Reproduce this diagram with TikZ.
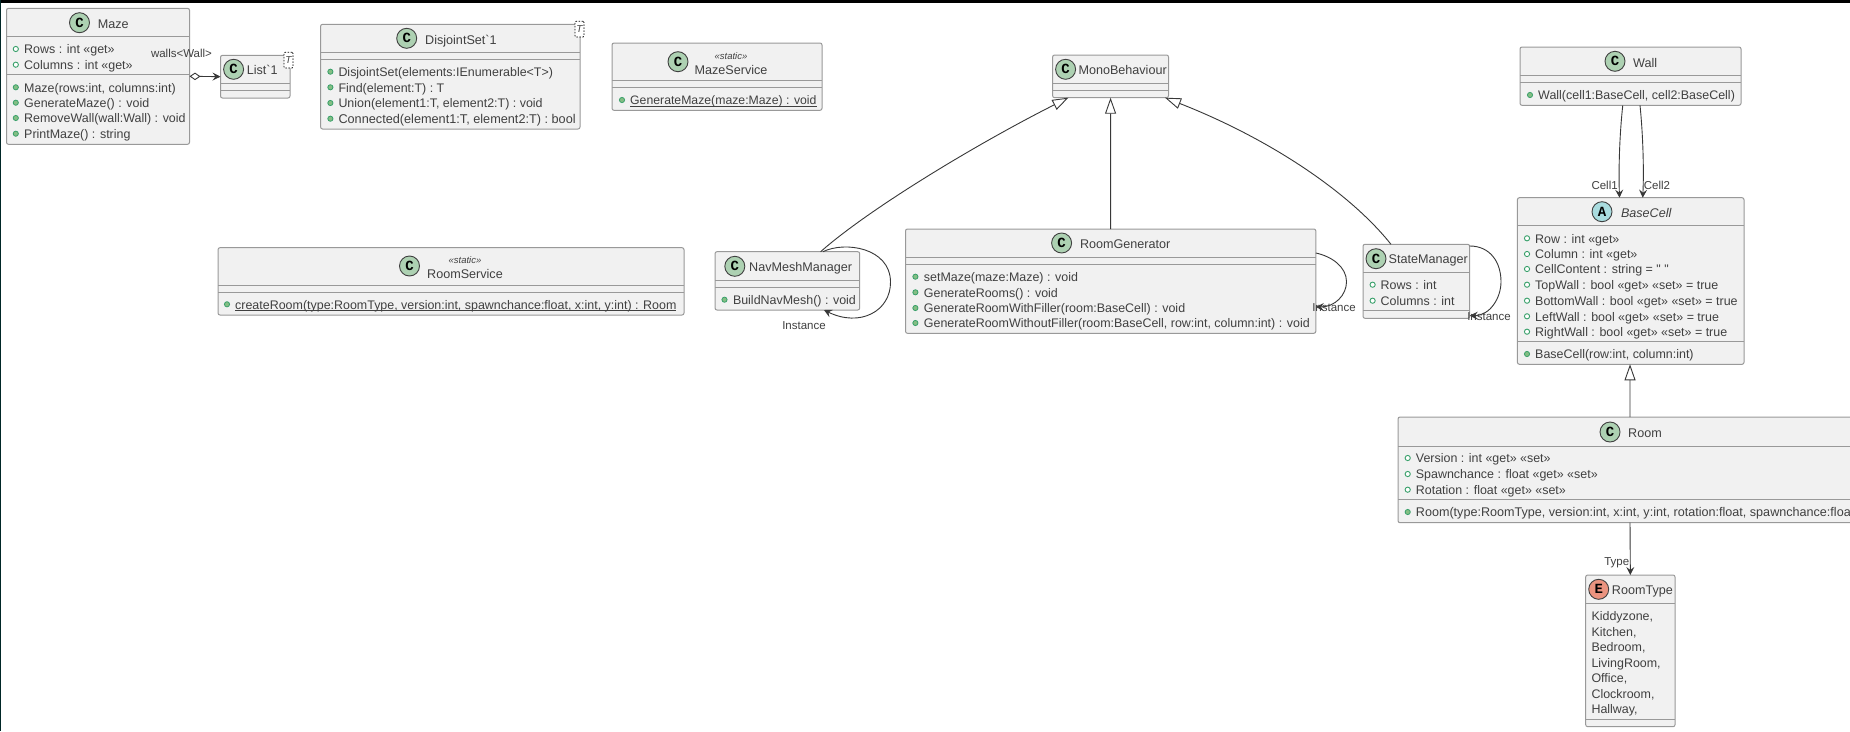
\documentclass[tikz,border=0pt]{standalone}
\usepackage{fontspec}
\usetikzlibrary{arrows.meta,calc,fit}
\newfontfamily\umlf{Liberation Sans}
\newfontfamily\umlm{Liberation Mono}
\definecolor{boxfill}{HTML}{F1F1F1}
\definecolor{boxline}{HTML}{999999}
\definecolor{inkc}{HTML}{404040}
\definecolor{connc}{HTML}{383838}
\definecolor{iconc}{HTML}{ADD1B2}
\definecolor{icona}{HTML}{A9DCDF}
\definecolor{icone}{HTML}{EB937F}
\definecolor{bulc}{HTML}{38A06A}
\definecolor{bulf}{HTML}{84BE84}
\newcount\umlc
\newsavebox{\umlundbox}
\newcommand{\umlund}[1]{\sbox{\umlundbox}{\fontsize{12.25}{14}\selectfont #1}\rlap{\usebox{\umlundbox}}\raisebox{-1.6pt}{\rule{\wd\umlundbox}{0.7pt}}}
\tikzset{
  x=1pt,y=-1pt,
  umlbox/.style={draw=boxline,fill=boxfill,rounded corners=2pt,line width=1pt,inner sep=0pt,outer sep=0pt},
  sepline/.style={draw=boxline,line width=1pt},
  txt/.style={font=\umlf\fontsize{12.45}{14}\selectfont,text=inkc,inner sep=0pt,text height=12pt,text depth=2.5pt},
  ttl/.style={txt,font=\umlf\fontsize{12.6}{14}\selectfont},
  stereo/.style={txt,font=\umlf\itshape\fontsize{9.5}{11}\selectfont},
  lbl/.style={txt,font=\umlf\fontsize{11.5}{13}\selectfont},
  iconstyle/.style={circle,draw=inkc,line width=0.9pt,minimum size=20pt,inner sep=0pt,font=\umlm\bfseries\fontsize{14}{14}\selectfont,text=black},
  conn/.style={draw=connc,line width=0.9pt},
  openhead/.style={-{Stealth[length=8pt,width=8pt,inset=3pt,fill=connc]}},
  inherit/.style={-{Triangle[length=16pt,width=11pt,fill=white]}},
  tmpl/.style={draw=black,dashed,dash pattern=on 1.5pt off 1.5pt,fill=white,line width=0.7pt,rounded corners=1pt,inner sep=0pt,outer sep=0pt,font=\umlf\itshape\fontsize{10}{10}\selectfont,text=inkc},
}
\newcommand{\umlbox}[5]{\node[umlbox,fit={(#2,#3) (#4,#5)}] (#1) {};}
\newcommand{\umlsep}[3]{\draw[sepline] (#1,#3) -- (#2,#3);}
\newcommand{\umlicon}[5]{\node[iconstyle,fill=#4] (#5) at (#1,#2) {#3};}
\newcommand{\umlttl}[3]{\global\advance\umlc by 1 \node[ttl,anchor=west] (t\the\umlc) at (#1,#2) {#3};}
\newcommand{\umlctr}[3]{\global\advance\umlc by 1 \node[ttl,anchor=center] (t\the\umlc) at (#1,#2) {#3};}
\newcommand{\umlster}[2]{\global\advance\umlc by 1 \node[stereo,anchor=center] (t\the\umlc) at (#1,#2) {«static»};}
\newcommand{\umlfield}[4]{\global\advance\umlc by 1 \draw[bulc,line width=0.9pt,fill=white] (#1,#3) circle (2.6pt); \node[txt,anchor=west] (t\the\umlc) at (#2,#3) {#4};}
\newcommand{\umlmeth}[4]{\global\advance\umlc by 1 \draw[bulc,line width=0.8pt,fill=bulf] (#1,#3) circle (2.6pt); \node[txt,anchor=west] (t\the\umlc) at (#2,#3) {#4};}
\newcommand{\umllit}[3]{\global\advance\umlc by 1 \node[txt,anchor=west] (t\the\umlc) at (#1,#2) {#3};}
\newcommand{\umllbl}[3]{\global\advance\umlc by 1 \node[lbl,anchor=center] (t\the\umlc) at (#1,#2) {#3};}
\begin{document}
\begin{tikzpicture}
\useasboundingbox (0,0) rectangle (1850,731);
\clip (0,0) rectangle (1850,731);
\fill[white] (0,0) rectangle (1850,731);
\fill[black] (0,0) rectangle (1850,2.5);
\fill[black!70!teal] (0,0) rectangle (1.3,731);

% Maze
\umlbox{maze}{6.5}{8.3}{189.5}{144.3}
\umlsep{6.5}{189.5}{36.7}\umlsep{6.5}{189.5}{74.7}
\umlicon{79.5}{22.7}{C}{iconc}{imaze}
\umlttl{97.6}{23.3}{Maze}
\umlfield{15.8}{24}{49}{Rows : int «get»}
\umlfield{15.8}{24}{64.7}{Columns : int «get»}
\umlmeth{15.8}{24}{87.3}{Maze(rows:int, columns:int)}
\umlmeth{15.8}{24}{102.7}{GenerateMaze() : void}
\umlmeth{15.8}{24}{118}{RemoveWall(wall:Wall) : void}
\umlmeth{15.8}{24}{133.7}{PrintMaze() : string}

% List
\umlbox{list}{220.5}{55.3}{290}{98}
\umlsep{220.5}{290}{83.3}\umlsep{220.5}{290}{90.3}
\umlicon{233.6}{69.3}{C}{iconc}{ilist}
\umlttl{246.6}{70}{List`1}
\node[tmpl,fit={(284,52.3) (293,68)}] (tlist) {};
\node[tmpl,draw=none,fill=none] (tlistt) at (288.5,60.2) {T};

% DisjointSet
\umlbox{dset}{320.6}{24.3}{580}{129}
\umlsep{320.6}{580}{52.3}\umlsep{320.6}{580}{59.3}
\umlicon{406.7}{38.3}{C}{iconc}{idset}
\umlttl{425}{39.3}{DisjointSet`1}
\node[tmpl,fit={(575,21.3) (584,37)}] (tdset) {};
\node[tmpl,draw=none,fill=none] (tdsett) at (579.5,29.2) {T};
\umlmeth{330.4}{338.3}{71.7}{DisjointSet(elements:IEnumerable<T>)}
\umlmeth{330.4}{338.3}{87.3}{Find(element:T) : T}
\umlmeth{330.4}{338.3}{103}{Union(element1:T, element2:T) : void}
\umlmeth{330.4}{338.3}{118.7}{\fontsize{12.7}{14}\selectfont Connected(element1:T, element2:T) : bool}

% MazeService
\umlbox{msvc}{612}{43}{822}{110.3}
\umlsep{612}{822}{80.3}\umlsep{612}{822}{87.7}
\umlicon{678}{61.7}{C}{iconc}{imsvc}
\umlster{731}{55}
\umlctr{731}{69.3}{MazeService}
\umlmeth{622}{630}{100}{\umlund{GenerateMaze(maze:Maze) : void}}

% RoomService
\umlbox{rsvc}{218}{247.7}{684}{315}
\umlsep{218}{684}{285}\umlsep{218}{684}{292.3}
\umlicon{409.5}{266}{C}{iconc}{irsvc}
\umlster{465}{259}
\umlctr{465}{274}{RoomService}
\umlmeth{227}{235}{304.3}{\umlund{\fontsize{12.45}{14}\selectfont createRoom(type:RoomType, version:int, spawnchance:float, x:int, y:int) : Room}}

% MonoBehaviour
\umlbox{mono}{1052.6}{55}{1168.5}{97.7}
\umlsep{1052.6}{1168.5}{83.3}\umlsep{1052.6}{1168.5}{90.3}
\umlicon{1065.6}{69.3}{C}{iconc}{imono}
\umlttl{1078.3}{70}{MonoBehaviour}

% NavMeshManager
\umlbox{nav}{715}{251.7}{859.7}{310}
\umlsep{715}{859.7}{280.3}\umlsep{715}{859.7}{287.3}
\umlicon{734.8}{266.3}{C}{iconc}{inav}
\umlttl{749}{266.7}{NavMeshManager}
\umlmeth{724.5}{732.8}{299.7}{BuildNavMesh() : void}

% RoomGenerator
\umlbox{rgen}{905.5}{229}{1315.8}{333.3}
\umlsep{905.5}{1315.8}{257.3}\umlsep{905.5}{1315.8}{264.3}
\umlicon{1061.6}{243}{C}{iconc}{irgen}
\umlttl{1079.8}{244}{RoomGenerator}
\umlmeth{915.4}{923.7}{276.7}{setMaze(maze:Maze) : void}
\umlmeth{915.4}{923.7}{292.3}{GenerateRooms() : void}
\umlmeth{915.4}{923.7}{308}{GenerateRoomWithFiller(room:BaseCell) : void}
\umlmeth{915.4}{923.7}{323}{GenerateRoomWithoutFiller(room:BaseCell, row:int, column:int) : void}

% StateManager
\umlbox{smgr}{1363}{244.3}{1469.7}{318.3}
\umlsep{1363}{1469.7}{272.3}\umlsep{1363}{1469.7}{310.7}
\umlicon{1376}{258.7}{C}{iconc}{ismgr}
\umlttl{1388.4}{259}{StateManager}
\umlfield{1372.6}{1380.5}{284.7}{Rows : int}
\umlfield{1372.6}{1380.5}{300.7}{Columns : int}

% Wall
\umlbox{wall}{1520}{47}{1741}{105.3}
\umlsep{1520}{1741}{75.3}\umlsep{1520}{1741}{82.3}
\umlicon{1615}{61.3}{C}{iconc}{iwall}
\umlttl{1633}{62.3}{Wall}
\umlmeth{1530}{1538}{95}{Wall(cell1:BaseCell, cell2:BaseCell)}

% BaseCell
\umlbox{cell}{1517.4}{197.7}{1744}{364.3}
\umlsep{1517.4}{1744}{225.7}\umlsep{1517.4}{1744}{341.7}
\umlicon{1602}{211.7}{A}{icona}{icell}
\umlttl{1620.8}{212.7}{\itshape BaseCell}
\umlfield{1527}{1535}{238.3}{Row : int «get»}
\umlfield{1527}{1535}{254}{Column : int «get»}
\umlfield{1527}{1535}{269}{CellContent : string = " "}
\umlfield{1527}{1535}{284.7}{TopWall : bool «get» «set» = true}
\umlfield{1527}{1535}{300.7}{BottomWall : bool «get» «set» = true}
\umlfield{1527}{1535}{316.3}{LeftWall : bool «get» «set» = true}
\umlfield{1527}{1535}{331.7}{RightWall : bool «get» «set» = true}
\umlmeth{1527}{1535}{354}{BaseCell(row:int, column:int)}

% Room
\umlbox{room}{1398}{417}{1862}{522.7}
\umlsep{1398}{1862}{446}\umlsep{1398}{1862}{499.7}
\umlicon{1610}{432}{C}{iconc}{iroom}
\umlttl{1628}{432.7}{Room}
\umlfield{1407.7}{1415.7}{458}{Version : int «get» «set»}
\umlfield{1407.7}{1415.7}{474}{Spawnchance : float «get» «set»}
\umlfield{1407.7}{1415.7}{489.7}{Rotation : float «get» «set»}
\umlmeth{1407.7}{1415.7}{512}{\fontsize{12.6}{14}\selectfont Room(type:RoomType, version:int, x:int, y:int, rotation:float, spawnchance:float)}

% RoomType
\umlbox{rtype}{1585.7}{575}{1675}{726.7}
\umlsep{1585.7}{1675}{603}\umlsep{1585.7}{1675}{719}
\umlicon{1598.7}{589.3}{E}{icone}{irtype}
\umlttl{1611.7}{590}{RoomType}
\umllit{1591.3}{615.7}{Kiddyzone,}
\umllit{1591.3}{631.3}{Kitchen,}
\umllit{1591.3}{646.7}{Bedroom,}
\umllit{1591.3}{662.3}{LivingRoom,}
\umllit{1591.3}{677.7}{Office,}
\umllit{1591.3}{693.7}{Clockroom,}
\umllit{1591.3}{708.7}{Hallway,}

% Connectors
\draw[conn,{Diamond[open,length=11pt,width=7.5pt,fill=white]}-{Stealth[length=8pt,width=8pt,inset=3pt,fill=connc]}] ($(maze.north east)!0.5!(maze.south east)$) -- (list.west);
\umllbl{181.5}{52.3}{walls<Wall>}

\draw[conn,inherit] ($(nav.north west)!0.73!(nav.north east)$) .. controls (868,209.7) and (975,144.8) .. ($(mono.south west)!0.136!(mono.south east)$);
\draw[conn,inherit] (rgen.north) -- (mono.south);
\draw[conn,inherit] ($(smgr.north west)!0.262!(smgr.north east)$) .. controls (1350,192.7) and (1270,138.9) .. ($(mono.south west)!0.97!(mono.south east)$);

\coordinate (navtop) at ($(nav.north west)!0.746!(nav.north east)$);
\coordinate (navbot) at ($(nav.south west)!0.753!(nav.south east)$);
\draw[conn,openhead] (navtop) .. controls (845,240.9) and (890,247.7) .. (890.5,281.7) .. controls (891,311) and (860,327.8) .. (navbot);
\umllbl{804}{325}{Instance}

\coordinate (rgtop) at ($(rgen.north east)!0.23!(rgen.south east)$);
\coordinate (rgbot) at ($(rgen.north east)!0.748!(rgen.south east)$);
\draw[conn,openhead] (rgtop) .. controls (1332,256.5) and (1346.5,267) .. (1346.5,281.7) .. controls (1346.5,295) and (1335,307) .. (rgbot);
\umllbl{1334}{307}{Instance}

\coordinate (smtop) at ($(smgr.north east)!0.023!(smgr.south east)$);
\coordinate (smbot) at ($(smgr.north east)!0.965!(smgr.south east)$);
\draw[conn,openhead] (smtop) .. controls (1490,246) and (1501,262) .. (1501,281.7) .. controls (1501,298) and (1490,315.7) .. (smbot);
\umllbl{1489}{315.3}{Instance}

\draw[conn,openhead] ($(wall.south west)!0.465!(wall.south east)$) .. controls (1619.5,135) and (1618.5,170) .. ($(cell.north west)!0.4506!(cell.north east)$);
\draw[conn,openhead] ($(wall.south west)!0.543!(wall.south east)$) .. controls (1643,135) and (1644,170) .. ($(cell.north west)!0.553!(cell.north east)$);
\umllbl{1604.6}{184.3}{Cell1}
\umllbl{1657}{184.3}{Cell2}

\draw[conn,inherit] (room.north) -- ($(cell.south west)!0.497!(cell.south east)$);
\draw[conn,openhead] (room.south) -- (rtype.north);
\umllbl{1616.7}{561}{Type}
\end{tikzpicture}
\end{document}
